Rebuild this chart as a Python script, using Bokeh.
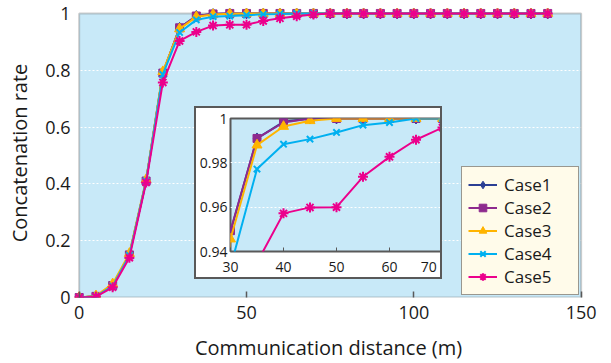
from bokeh.plotting import figure
from bokeh.models import Range1d, FixedTicker, PrintfTickFormatter, BoxAnnotation, Legend, LegendItem
from bokeh.embed import file_html
from bokeh.resources import INLINE

# ---------------- data ----------------
distance = [0, 5, 10, 15, 20, 25, 30, 35, 40, 45, 50, 55, 60, 65, 70,
            75, 80, 85, 90, 95, 100, 105, 110, 115, 120, 125, 130, 135, 140]
case1 = [0, 0.004, 0.042, 0.150, 0.410, 0.790, 0.9490, 0.9910, 0.9985, 1.0, 1.0, 1.0, 1.0, 1.0, 1.0,
         1.0, 1.0, 1.0, 1.0, 1.0, 1.0, 1.0, 1.0, 1.0, 1.0, 1.0, 1.0, 1.0, 1.0]
case2 = [0, 0.004, 0.042, 0.150, 0.410, 0.790, 0.9494, 0.9910, 0.9982, 1.0, 1.0, 1.0, 1.0, 1.0, 1.0,
         1.0, 1.0, 1.0, 1.0, 1.0, 1.0, 1.0, 1.0, 1.0, 1.0, 1.0, 1.0, 1.0, 1.0]
case3 = [0, 0.006, 0.048, 0.155, 0.415, 0.795, 0.9456, 0.9880, 0.9964, 0.9990, 1.0, 1.0, 1.0, 1.0, 1.0,
         1.0, 1.0, 1.0, 1.0, 1.0, 1.0, 1.0, 1.0, 1.0, 1.0, 1.0, 1.0, 1.0, 1.0]
case4 = [0, 0.004, 0.040, 0.148, 0.410, 0.785, 0.9330, 0.9772, 0.9884, 0.9907, 0.9937, 0.9970, 0.9982, 1.0, 1.0,
         1.0, 1.0, 1.0, 1.0, 1.0, 1.0, 1.0, 1.0, 1.0, 1.0, 1.0, 1.0, 1.0, 1.0]
case5 = [0, 0.003, 0.036, 0.140, 0.405, 0.757, 0.9030, 0.9350, 0.9572, 0.9599, 0.9600, 0.9737, 0.9827, 0.9904, 0.9959,
         1.0, 1.0, 1.0, 1.0, 1.0, 1.0, 1.0, 1.0, 1.0, 1.0, 1.0, 1.0, 1.0, 1.0]

names = ["Case1", "Case2", "Case3", "Case4", "Case5"]
series = [case1, case2, case3, case4, case5]
colors = ["#2b3f94", "#8e2a8e", "#ffb400", "#00b0f0", "#ec008c"]
markers = ["diamond", "square", "triangle", "x", "asterisk"]
msizes = [11, 8, 10, 9, 10]

x_ticks = [0, 50, 100, 150]
y_ticks = [0, 0.2, 0.4, 0.6, 0.8, 1]
y_grid = [0.2, 0.4, 0.6, 0.8]
x_lo, x_hi, y_lo, y_hi = 0, 150, 0, 1

inset_x_ticks = [30, 40, 50, 60, 70]
inset_y_ticks = [0.94, 0.96, 0.98, 1]
inset_y_grid = [0.96, 0.98]

FONT = "Open Sans"
TXT = "#1a1a1a"
FRAME = "#595959"
BG = "#c8e9f8"

# ---------------- main plot ----------------
p = figure(width=600, height=363, x_range=Range1d(-2.0, 151.0), y_range=Range1d(0, 1.0173),
           output_backend="svg", toolbar_location=None,
           min_border_left=72, min_border_right=16, min_border_top=8, min_border_bottom=61)
p.background_fill_color = "white"
p.border_fill_color = "white"
p.outline_line_color = None

plot_bg = BoxAnnotation(left=x_lo, right=x_hi, bottom=y_lo, top=y_hi, fill_color=BG, fill_alpha=1,
                        line_color=None, level="image")
p.add_layout(plot_bg)
plot_border = BoxAnnotation(left=x_lo, right=x_hi, bottom=y_lo, top=y_hi, fill_alpha=0,
                            line_color=FRAME, line_width=2, level="underlay")
p.add_layout(plot_border)

p.xgrid.visible = False
p.ygrid.ticker = FixedTicker(ticks=y_grid)
p.ygrid.grid_line_color = "white"
p.ygrid.grid_line_dash = "2 2"
p.ygrid.grid_line_width = 1.2

xa = p.xaxis[0]
xa.ticker = FixedTicker(ticks=x_ticks)
xa.axis_line_color = None
xa.major_tick_in = 6
xa.major_tick_out = 0
xa.major_tick_line_color = FRAME
xa.major_tick_line_width = 1.5
xa.minor_tick_line_color = None
xa.major_label_standoff = 8
xa.major_label_text_font = FONT
xa.major_label_text_font_size = "18px"
xa.major_label_text_color = TXT
xa.axis_label = "Communication distance (m)"
xa.axis_label_text_font = FONT
xa.axis_label_text_font_size = "20px"
xa.axis_label_text_font_style = "normal"
xa.axis_label_text_color = TXT
xa.axis_label_standoff = 12

ya = p.yaxis[0]
ya.ticker = FixedTicker(ticks=y_ticks)
ya.formatter = PrintfTickFormatter(format="%g")
ya.axis_line_color = None
ya.major_tick_in = 0
ya.major_tick_out = 0
ya.minor_tick_line_color = None
ya.major_label_standoff = 2
ya.major_label_text_font = FONT
ya.major_label_text_font_size = "18px"
ya.major_label_text_color = TXT
ya.axis_label = "Concatenation rate"
ya.axis_label_text_font = FONT
ya.axis_label_text_font_size = "20px"
ya.axis_label_text_font_style = "normal"
ya.axis_label_text_color = TXT
ya.axis_label_standoff = 9

items = []
for name, vals, color, marker, size in zip(names, series, colors, markers, msizes):
    rl = p.line(distance, vals, line_color=color, line_width=2)
    rm = p.scatter(distance, vals, marker=marker, size=size, fill_color=color,
                   line_color=color, line_width=2 if marker in ("x", "asterisk") else 1)
    items.append(LegendItem(label=name, renderers=[rl, rm]))

legend = Legend(items=items, location=(389, 2))
legend.background_fill_color = "#fffbea"
legend.background_fill_alpha = 1
legend.border_line_color = "#333333"
legend.border_line_width = 1.5
legend.label_text_font = FONT
legend.label_text_font_size = "17px"
legend.label_text_color = TXT
legend.glyph_width = 29
legend.glyph_height = 19
legend.label_height = 19
legend.label_width = 68
legend.label_standoff = 7
legend.spacing = 0
legend.padding = 6
legend.margin = 0
p.add_layout(legend)

# ---------------- inset ----------------
inset = figure(width=248, height=173, x_range=Range1d(30, 70), y_range=Range1d(0.94, 1.0),
               output_backend="svg", toolbar_location=None,
               min_border_left=30, min_border_right=2, min_border_top=10, min_border_bottom=30)
inset.background_fill_color = BG
inset.border_fill_color = "white"
inset.outline_line_color = FRAME
inset.outline_line_width = 2
inset.xgrid.visible = False
inset.ygrid.ticker = FixedTicker(ticks=inset_y_grid)
inset.ygrid.grid_line_color = "white"
inset.ygrid.grid_line_dash = "2 2"
inset.ygrid.grid_line_width = 1.2

ix = inset.xaxis[0]
ix.ticker = FixedTicker(ticks=inset_x_ticks)
ix.major_label_overrides = {70: "70\u00a0"}
ix.axis_line_color = None
ix.major_tick_in = 4
ix.major_tick_out = 0
ix.major_tick_line_color = FRAME
ix.minor_tick_line_color = None
ix.major_label_standoff = 5
ix.major_label_text_font = FONT
ix.major_label_text_font_size = "14px"
ix.major_label_text_color = TXT

iy = inset.yaxis[0]
iy.ticker = FixedTicker(ticks=inset_y_ticks)
iy.formatter = PrintfTickFormatter(format="%g")
iy.axis_line_color = None
iy.major_tick_in = 0
iy.major_tick_out = 0
iy.minor_tick_line_color = None
iy.major_label_standoff = 3
iy.major_label_text_font = FONT
iy.major_label_text_font_size = "14px"
iy.major_label_text_color = TXT

for vals, color, marker, size in zip(series, colors, markers, msizes):
    inset.line(distance, vals, line_color=color, line_width=2)
    inset.scatter(distance, vals, marker=marker, size=size, fill_color=color,
                  line_color=color, line_width=2 if marker in ("x", "asterisk") else 1)

inset.styles = {"position": "absolute", "left": "194px", "top": "106px",
                "border": "2px solid " + FRAME, "z-index": "10", "background": "white"}

open("out.html", "w").write(file_html([p, inset], INLINE))
